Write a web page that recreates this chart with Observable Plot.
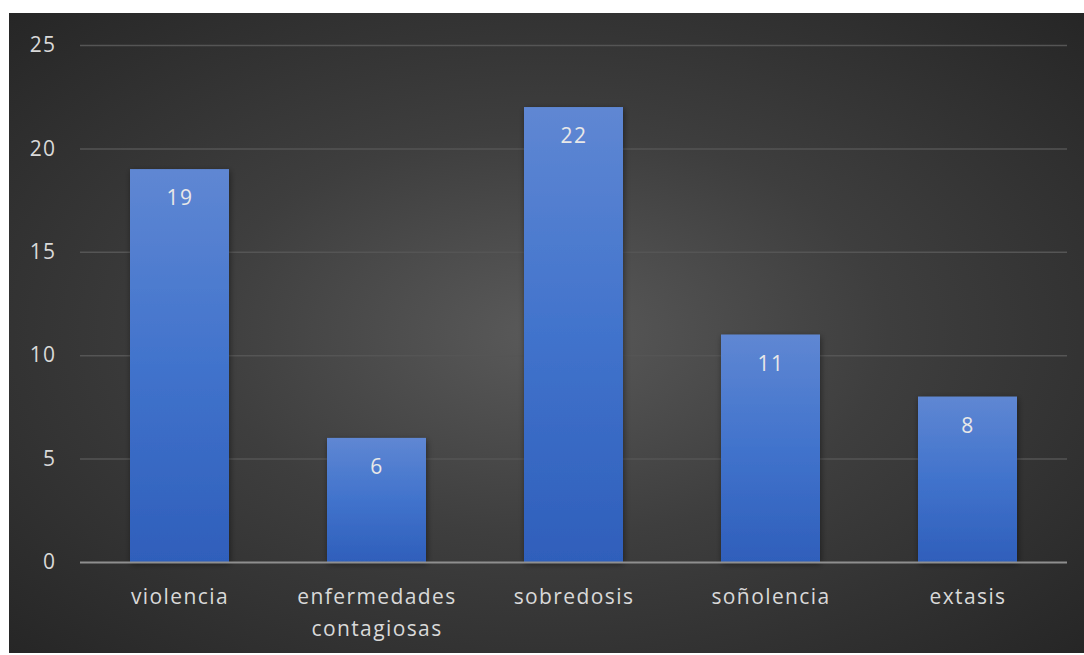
<!DOCTYPE html>
<html>
<head>
<meta charset="utf-8">
<script src="https://cdn.jsdelivr.net/npm/d3@7"></script>
<script src="https://cdn.jsdelivr.net/npm/@observablehq/plot@0.6"></script>
<style>
  html, body { margin: 0; padding: 0; background: #ffffff; }
  #wrap { position: absolute; left: 9px; top: 13px; width: 1075px; height: 640px; }
  #wrap svg text { letter-spacing: 1.4px; }
</style>
</head>
<body>
<div id="wrap"></div>
<script>
const categories = ["violencia", "enfermedades contagiosas", "sobredosis", "soñolencia", "extasis"];
const categoryLabels = ["violencia", "enfermedades\ncontagiosas", "sobredosis", "soñolencia", "extasis"];
const values = [19, 6, 22, 11, 8];
const yTicks = [0, 5, 10, 15, 20, 25];

const data = categories.map((c, i) => ({category: c, value: values[i]}));
const labelOf = new Map(categories.map((c, i) => [c, categoryLabels[i]]));

const font = "'Open Sans', 'DejaVu Sans', sans-serif";
const textColor = "#d9d9d9";

const chart = Plot.plot({
  width: 1075,
  height: 640,
  marginTop: 32,
  marginBottom: 91,
  marginLeft: 71,
  marginRight: 17,
  style: {
    background: "radial-gradient(ellipse at 50% 50%, #5a5a5a 0%, #3e3e3e 45%, #262626 100%)",
    fontFamily: font,
    fontSize: "21px",
    color: textColor
  },
  x: {domain: categories, paddingInner: 0.5, paddingOuter: 0.25, label: null},
  y: {domain: [0, 25], label: null},
  marks: [
    Plot.gridY(yTicks.slice(1), {stroke: "#555555", strokeOpacity: 1, strokeWidth: 1.5}),
    Plot.axisY(yTicks, {tickSize: 0, tickPadding: 24, fill: textColor, fontSize: 21, label: null}),
    Plot.axisX({tickSize: 0, tickPadding: 18, fill: textColor, fontSize: 21, lineHeight: 1.55, tickFormat: d => labelOf.get(d), label: null}),
    Plot.barY(data, {x: "category", y: "value", fill: "url(#barGrad)"}),
    Plot.ruleY([0], {stroke: "#8f8f8f", strokeWidth: 2}),
    Plot.text(data, {x: "category", y: "value", text: d => String(d.value), dy: 29, fill: "#e8e8e8", fontSize: 21})
  ]
});

// gradient and shadow for bars
const ns = "http://www.w3.org/2000/svg";
const defs = document.createElementNS(ns, "defs");
defs.innerHTML = `<linearGradient id="barGrad" x1="0" y1="0" x2="0" y2="1">
  <stop offset="0%" stop-color="#5f87d3"/>
  <stop offset="50%" stop-color="#4173cc"/>
  <stop offset="100%" stop-color="#2f5fbb"/>
</linearGradient>
<filter id="shadow" x="-20%" y="-20%" width="140%" height="140%">
  <feDropShadow dx="1" dy="2" stdDeviation="3" flood-color="#000" flood-opacity="0.45"/>
</filter>`;
chart.insertBefore(defs, chart.firstChild);
chart.querySelectorAll("g[aria-label='bar'] rect").forEach(r => r.setAttribute("filter", "url(#shadow)"));

document.getElementById("wrap").appendChild(chart);
</script>
</body>
</html>
